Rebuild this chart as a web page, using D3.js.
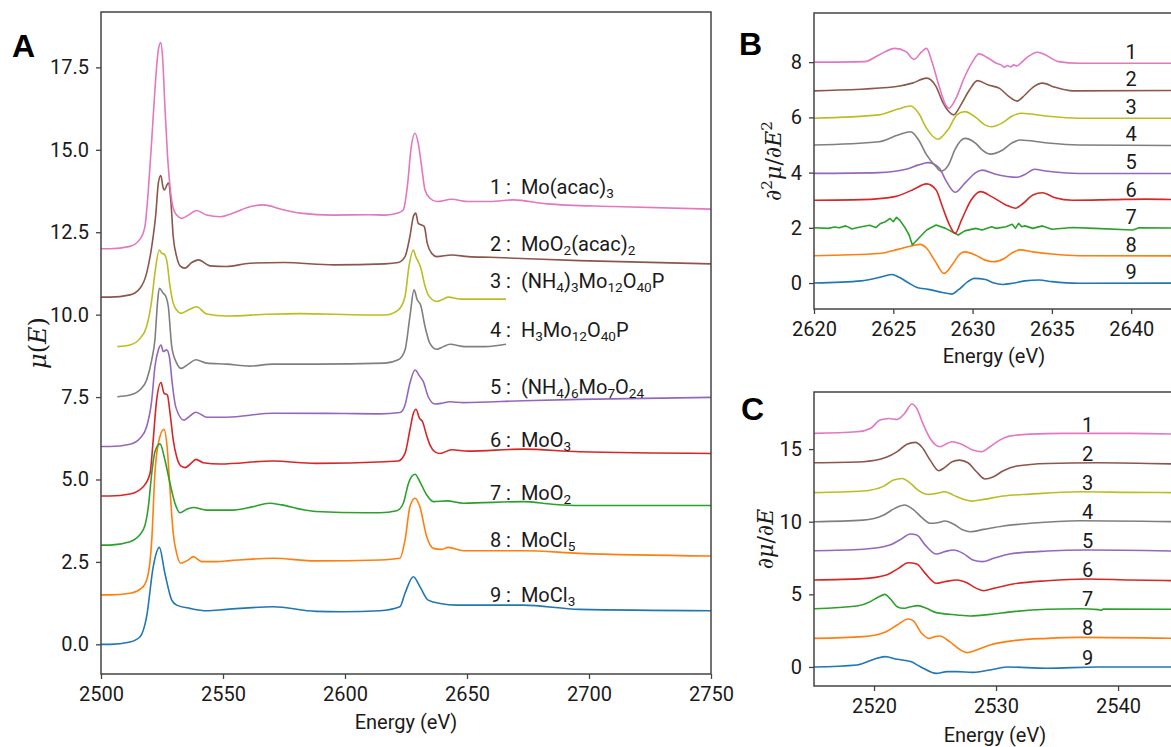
<!DOCTYPE html>
<html>
<head>
<meta charset="utf-8">
<script src="https://cdn.jsdelivr.net/npm/d3@7"></script>
<style>
  body { margin: 0; background: #fff; }
  svg { display: block; font-family: Roboto, "Liberation Sans", sans-serif; }
</style>
</head>
<body>
<div id="chart"></div>
<script>
// ---- data (energy in eV, plotted value incl. vertical offset) ----
const labelsA = ["1 :  Mo(acac)_3", "2 :  MoO_2(acac)_2", "3 :  (NH_4)_3Mo_{12}O_{40}P", "4 :  H_3Mo_{12}O_{40}P",
  "5 :  (NH_4)_6Mo_7O_{24}", "6 :  MoO_3", "7 :  MoO_2", "8 :  MoCl_5", "9 :  MoCl_3"];
const labelLevelA = [13.65, 11.93, 10.8, 9.32, 7.59, 5.98, 4.38, 2.95, 1.28];
const offsetsB = [8, 7, 6, 5, 4, 3, 2, 1, 0];
const offsetsC = [16, 14, 12, 10, 8, 6, 4, 2, 0];
const ticksAx = [2500, 2550, 2600, 2650, 2700, 2750];
const ticksAy = [0, 2.5, 5, 7.5, 10, 12.5, 15, 17.5];
const ticksBx = [2620, 2625, 2630, 2635, 2640];
const ticksBy = [0, 2, 4, 6, 8];
const ticksCx = [2520, 2530, 2540];
const ticksCy = [0, 5, 10, 15];

const A1 = [[2500,12.0],[2503.7,12.0],[2511.9,12.07],[2516,12.29],[2518,12.67],[2519.4,13.78],[2520.8,15.3],[2522.1,16.82],[2523.5,18.03],[2524.5,18.25],[2525.3,17.73],[2526.2,16.31],[2527.2,14.9],[2528.3,13.88],[2529.6,13.23],[2531,13.02],[2533.1,12.92],[2535.8,13.02],[2539.2,13.16],[2543.3,13.02],[2548.8,12.97],[2554.2,13.08],[2560,13.25],[2566.5,13.33],[2574.7,13.18],[2581.6,13.08],[2595,13.02],[2610,13.03],[2616.4,13.02],[2621.8,13.08],[2623.9,13.18],[2625.7,13.99],[2627,15.0],[2628.7,15.5],[2630,15.2],[2631.4,14.49],[2632.8,13.78],[2634.8,13.53],[2637.6,13.43],[2643.7,13.5],[2650.5,13.43],[2659.4,13.43],[2669,13.48],[2682.7,13.36],[2710,13.28],[2750,13.2]];
const A2 = [[2500,10.53],[2503.7,10.53],[2511.9,10.6],[2516,10.8],[2518.7,11.26],[2520.8,12.07],[2522.5,13.08],[2523.5,13.99],[2524.5,14.22],[2525.5,13.84],[2525.9,13.78],[2527.6,13.99],[2528.6,13.48],[2529.6,12.37],[2531,11.76],[2532.4,11.48],[2534.4,11.41],[2537.2,11.58],[2539.9,11.66],[2544.7,11.48],[2551.5,11.46],[2561,11.56],[2575,11.58],[2595.5,11.51],[2616.4,11.54],[2621.8,11.58],[2624.6,11.76],[2626.6,12.37],[2628,12.97],[2629,13.08],[2630,12.77],[2631.4,12.72],[2632.5,12.67],[2633.7,12.17],[2635.5,11.86],[2637.6,11.76],[2643.7,11.81],[2650.5,11.76],[2659.4,11.74],[2696,11.64],[2750,11.54]];
const A3 = [[2506.7,9.03],[2511.9,9.08],[2516,9.28],[2518.7,9.64],[2520.8,10.45],[2522.1,11.26],[2523.9,11.96],[2524.9,11.86],[2525.8,11.84],[2526.9,11.66],[2528.3,10.85],[2529.6,10.35],[2531,10.14],[2532.8,10.04],[2535.8,10.14],[2539.2,10.24],[2543.3,10.02],[2551.5,9.96],[2568,10.01],[2581.6,10.03],[2608.9,9.99],[2616.4,9.99],[2621.8,10.14],[2624.6,10.55],[2626.2,11.46],[2628,11.96],[2629,11.76],[2630,11.61],[2631.1,11.41],[2632.5,10.95],[2634.1,10.6],[2637.6,10.4],[2640.3,10.47],[2642.3,10.53],[2647.8,10.47],[2666,10.47]];
const A4 = [[2506.7,7.51],[2511.9,7.56],[2516,7.72],[2518.7,8.02],[2520.8,8.63],[2522.1,9.24],[2523.2,10.4],[2523.9,10.8],[2525.5,10.65],[2526.6,10.55],[2527.6,10.24],[2529,9.03],[2531,8.53],[2532.8,8.37],[2535.8,8.5],[2538.9,8.63],[2543.3,8.53],[2551.5,8.5],[2561,8.44],[2570.5,8.5],[2588,8.5],[2616.4,8.53],[2621.8,8.63],[2624.6,8.93],[2626.6,9.94],[2628.3,10.75],[2629.6,10.45],[2631,10.29],[2632.8,9.64],[2634.8,9.13],[2637.6,8.95],[2640.3,9.03],[2643,9.1],[2649.2,9.03],[2657.4,9.03],[2666,9.1]];
const A5 = [[2500,6.0],[2503.7,6.0],[2511.9,6.07],[2516,6.25],[2518.7,6.6],[2520.8,7.41],[2522.1,8.42],[2523.5,8.93],[2524.6,9.08],[2525.5,8.88],[2526.9,8.93],[2528,8.73],[2529.2,7.92],[2530.6,7.21],[2534,6.8],[2536.5,6.93],[2538.9,7.04],[2543.3,6.89],[2551.5,6.89],[2570.5,7.01],[2600,7.0],[2614.3,6.99],[2622.5,7.03],[2624.6,7.26],[2626.6,7.92],[2628.7,8.32],[2630.7,8.12],[2632.1,7.97],[2634.1,7.51],[2636.9,7.29],[2639.6,7.31],[2643,7.36],[2648.5,7.33],[2673,7.39],[2696,7.43],[2750,7.49]];
const A6 = [[2500,4.5],[2503.7,4.5],[2511.9,4.56],[2517.3,4.78],[2520.1,5.19],[2521.4,6.2],[2522.8,7.41],[2524.6,7.94],[2525.8,7.62],[2527.2,7.56],[2528.3,7.01],[2529.6,6.2],[2531,5.69],[2532.7,5.41],[2534.4,5.36],[2537.2,5.51],[2538.9,5.61],[2541.9,5.51],[2548.8,5.47],[2570.5,5.56],[2588,5.49],[2616.4,5.54],[2621.8,5.56],[2624.6,5.79],[2626.6,6.5],[2628,7.0],[2629.1,7.13],[2630.5,6.86],[2631.8,6.75],[2633.2,6.4],[2634.8,6.05],[2636.9,5.84],[2638.9,5.79],[2643.7,5.9],[2650.5,5.86],[2673,5.92],[2696,5.84],[2750,5.79]];
const A7 = [[2500,3.01],[2503.7,3.01],[2511.9,3.11],[2517.3,3.47],[2519.4,4.17],[2520.8,5.19],[2522.1,5.84],[2524.2,6.08],[2526.2,5.59],[2528.3,4.88],[2530.3,4.28],[2532.4,3.99],[2535.1,4.1],[2537.8,4.15],[2543.3,4.07],[2554,4.07],[2562,4.17],[2569,4.28],[2574,4.23],[2581.6,4.1],[2588,4.03],[2608.9,3.99],[2614.3,3.99],[2621.2,4.05],[2623.9,4.28],[2626,4.88],[2627.3,5.09],[2628.7,5.16],[2630.7,4.93],[2633.5,4.53],[2636.2,4.33],[2641.7,4.35],[2648.5,4.28],[2673,4.33],[2685,4.25],[2696,4.21],[2750,4.21]];
const A8 = [[2500,1.5],[2503.7,1.5],[2511.9,1.55],[2517.3,1.75],[2519.4,2.15],[2520.8,3.16],[2522.1,5.19],[2523.5,6.1],[2525.8,6.52],[2527.2,5.9],[2528.3,4.68],[2529.6,3.37],[2531,2.76],[2532.7,2.46],[2535.8,2.56],[2537.8,2.66],[2541.3,2.51],[2547.4,2.51],[2552.9,2.54],[2570.5,2.61],[2588,2.53],[2614.3,2.56],[2622.5,2.61],[2624.6,3.16],[2626.6,4.17],[2628.7,4.43],[2630.7,4.17],[2633.5,3.26],[2636.2,2.91],[2639.6,2.88],[2642.3,2.94],[2648.5,2.84],[2673,2.84],[2696,2.76],[2750,2.68]];
const A9 = [[2500,0],[2503.7,0],[2511.9,0.07],[2516,0.23],[2518.7,0.84],[2521.4,2.35],[2523.9,2.94],[2526.2,2.15],[2529,1.34],[2531,1.19],[2536.5,1.09],[2543.3,1.02],[2551.5,1.06],[2570.5,1.14],[2588,1.0],[2599,0.99],[2614.3,1.02],[2622.5,1.14],[2624.6,1.55],[2628,2.05],[2630.7,1.75],[2634.1,1.34],[2639,1.24],[2645.8,1.19],[2673,1.19],[2696,1.06],[2750,1.02]];

const B1 = [[2620,8.0],[2623.2,8.02],[2624.1,8.26],[2625.1,8.5],[2625.8,8.38],[2626.3,8.1],[2626.8,8.38],[2627.1,8.5],[2627.4,8.08],[2627.9,7.11],[2628.3,6.45],[2628.5,6.33],[2628.9,6.63],[2629.5,7.47],[2630,8.02],[2630.4,8.3],[2631,8.14],[2631.5,7.96],[2631.8,7.9],[2632,7.82],[2632.2,7.88],[2632.4,7.83],[2632.6,7.9],[2632.8,7.86],[2633,7.95],[2633.5,8.2],[2634.1,8.36],[2634.6,8.26],[2635.4,8.02],[2636.7,7.96],[2645,7.96]];
const B2 = [[2620,6.96],[2625.1,7.11],[2626.2,7.24],[2627.1,7.42],[2627.7,7.11],[2628.1,6.57],[2628.5,6.21],[2628.8,6.09],[2629.2,6.39],[2629.8,6.99],[2630.3,7.33],[2631,7.17],[2631.7,7.05],[2632.3,6.75],[2632.8,6.59],[2633.3,6.81],[2633.8,7.09],[2634.4,7.24],[2635.2,7.09],[2636.3,6.96],[2645,6.98]];
const B3 = [[2620,5.97],[2624.1,6.09],[2625.3,6.3],[2626.1,6.41],[2626.6,6.15],[2627.1,5.6],[2627.8,5.21],[2628.5,5.6],[2629,6.09],[2629.5,6.21],[2630.2,6.0],[2630.8,5.72],[2631.2,5.66],[2631.9,5.81],[2632.5,6.05],[2633.1,6.15],[2634.6,6.05],[2636.7,5.97],[2645,5.97]];
const B4 = [[2620,5.0],[2624.1,5.12],[2625.3,5.36],[2626.1,5.48],[2626.6,5.18],[2627.1,4.64],[2627.7,4.21],[2628.0,4.05],[2628.5,4.3],[2628.9,4.85],[2629.5,5.24],[2630.2,5.06],[2630.6,4.82],[2631.1,4.67],[2631.9,4.82],[2632.5,5.08],[2633,5.18],[2634.6,5.08],[2636.7,5.0],[2645,4.97]];
const B5 = [[2620,3.97],[2624.1,4.0],[2625.8,4.12],[2626.6,4.28],[2627.2,4.36],[2627.9,4.16],[2628.3,3.73],[2628.9,3.29],[2629.5,3.61],[2630.2,4.0],[2630.6,4.09],[2631.4,3.95],[2632.8,3.83],[2633.3,3.93],[2633.9,4.12],[2634.6,4.06],[2636.7,3.97],[2645,3.97]];
const B6 = [[2620,3.0],[2623,3.02],[2625.1,3.13],[2626.2,3.37],[2627.1,3.59],[2627.7,3.37],[2628.1,2.76],[2628.5,2.16],[2628.9,1.8],[2629.3,2.28],[2629.9,3.0],[2630.5,3.31],[2631.2,3.13],[2632.1,2.83],[2632.7,2.71],[2633.2,2.89],[2633.8,3.19],[2634.4,3.27],[2635.2,3.09],[2636.3,3.0],[2638.8,3.02],[2640.9,3.04],[2645,2.98]];
const B7 = [[2620,2.0],[2620.9,1.98],[2621.3,2.03],[2621.6,2.0],[2622,2.07],[2622.4,1.96],[2622.7,2.0],[2623,2.04],[2623.5,2.09],[2623.9,2.01],[2624.2,2.16],[2624.5,2.22],[2624.8,2.34],[2625,2.22],[2625.2,2.38],[2625.4,2.28],[2625.7,2.04],[2626,1.74],[2626.2,1.38],[2626.6,1.62],[2627.1,1.92],[2627.7,2.1],[2628.3,1.98],[2628.7,1.86],[2629.1,1.74],[2629.5,1.89],[2630.2,1.98],[2630.6,1.92],[2631.2,2.04],[2631.5,1.98],[2632.1,2.04],[2632.5,2.13],[2632.7,1.98],[2632.9,2.16],[2633.1,2.04],[2633.3,2.07],[2633.8,1.98],[2634.4,2.07],[2635,1.95],[2636.3,2.01],[2637.7,1.98],[2640.1,1.92],[2640.5,2.0],[2645,1.98]];
const B8 = [[2620,0.99],[2624.1,1.07],[2625.3,1.22],[2626.2,1.35],[2626.7,1.4],[2627.1,1.26],[2627.6,0.83],[2628.2,0.35],[2628.7,0.65],[2629.2,1.05],[2629.5,1.13],[2630.2,1.01],[2630.8,0.83],[2631.3,0.77],[2632,0.89],[2632.5,1.1],[2633,1.2],[2633.8,1.13],[2635,1.05],[2636.7,0.99],[2645,0.98]];
const B9 = [[2620,0],[2623,0.08],[2624.1,0.2],[2624.9,0.31],[2625.4,0.2],[2626,-0.01],[2626.5,-0.16],[2627.2,-0.23],[2628.1,-0.34],[2628.7,-0.4],[2629.1,-0.25],[2629.7,0.05],[2630.1,0.17],[2630.8,0.13],[2631.3,0.01],[2631.9,-0.05],[2632.5,-0.01],[2633.3,0.08],[2634.2,0.11],[2635,0.05],[2636.7,-0.01],[2645,0]];

const C1 = [[2515,16.08],[2518.6,16.19],[2519.7,16.42],[2520.5,17.0],[2521.2,17.11],[2521.9,17.04],[2522.5,17.45],[2523.1,18.1],[2523.5,17.8],[2524,16.77],[2524.6,15.73],[2525.4,15.16],[2526,15.39],[2526.4,15.5],[2527.3,15.28],[2528.1,14.93],[2528.8,14.82],[2529.5,15.16],[2530.3,15.62],[2531.1,15.89],[2532.8,16.03],[2535.5,16.08],[2541,16.08],[2545,16.03]];
const C2 = [[2515,14.06],[2519.1,14.13],[2521,14.43],[2521.9,14.82],[2522.7,15.34],[2523.4,15.46],[2523.9,15.16],[2524.6,14.24],[2525.3,13.51],[2525.8,13.74],[2526.4,14.13],[2527,14.24],[2527.7,14.06],[2528.4,13.44],[2529.1,12.94],[2529.8,13.1],[2530.6,13.51],[2531.7,13.83],[2534.2,14.01],[2538.3,14.06],[2545,13.97]];
const C3 = [[2515,12.0],[2519.1,12.11],[2520.8,12.45],[2521.6,12.87],[2522.3,12.98],[2523,12.64],[2523.6,12.18],[2524.5,11.88],[2525.1,11.95],[2525.8,12.06],[2526.5,11.83],[2527.3,11.54],[2528,11.42],[2529,11.54],[2530.6,11.77],[2532.8,11.9],[2536.9,12.06],[2541,12.02],[2545,12.0]];
const C4 = [[2515,10.0],[2519.1,10.11],[2520.8,10.46],[2521.7,10.92],[2522.5,11.15],[2523.2,10.85],[2523.9,10.3],[2524.6,9.89],[2525.2,9.93],[2525.8,10.05],[2526.5,9.84],[2527.3,9.43],[2527.9,9.31],[2529,9.47],[2530.6,9.7],[2532.8,9.89],[2536.9,10.07],[2545,10.0]];
const C5 = [[2515,8.0],[2519.1,8.1],[2521.3,8.39],[2522.1,8.74],[2523,9.15],[2523.5,9.08],[2524.2,8.39],[2525.1,7.78],[2525.8,7.94],[2526.5,8.05],[2527.3,7.82],[2528.1,7.36],[2528.9,7.25],[2529.8,7.48],[2531.1,7.78],[2534.2,7.98],[2537.4,8.05],[2545,7.98]];
const C6 = [[2515,5.99],[2519.1,6.08],[2521,6.33],[2522,6.79],[2522.8,7.18],[2523.5,7.09],[2524.2,6.44],[2525.1,5.76],[2525.8,5.87],[2526.8,5.99],[2527.6,5.8],[2528.4,5.41],[2529,5.25],[2529.8,5.41],[2531.4,5.71],[2534.2,5.94],[2537.4,6.06],[2541,5.99],[2545,5.94]];
const C7 = [[2515,4.01],[2518.6,4.2],[2519.7,4.5],[2520.4,4.84],[2520.9,5.0],[2521.3,4.72],[2521.9,4.15],[2522.4,4.04],[2523,4.15],[2523.6,4.22],[2524.3,4.04],[2525.1,3.74],[2526.8,3.58],[2527.9,3.51],[2529.5,3.62],[2531.4,3.81],[2534.2,3.97],[2536.9,4.01],[2538.4,3.95],[2538.6,3.9],[2538.8,3.98],[2545,3.97]];
const C8 = [[2515,1.97],[2519.1,2.09],[2521,2.43],[2521.9,2.89],[2522.8,3.3],[2523.2,3.19],[2523.9,2.32],[2524.5,1.97],[2525,2.09],[2525.4,2.13],[2526.2,1.74],[2527,1.22],[2527.6,0.99],[2528.4,1.17],[2529.5,1.51],[2531.4,1.81],[2534.2,1.97],[2536.9,2.04],[2545,1.97]];
const C9 = [[2515,0],[2518.6,0.14],[2520,0.53],[2520.9,0.71],[2521.9,0.53],[2523,0.37],[2523.8,0.02],[2525.1,-0.44],[2526,-0.32],[2526.8,-0.32],[2528.1,-0.37],[2529.5,-0.21],[2530.9,0],[2534.2,-0.09],[2538.3,0],[2545,0]];

// series 1..9 use these matplotlib tab10 colours
const colors = ["#e377c2", "#8c564b", "#bcbd22", "#7f7f7f", "#9467bd", "#d62728", "#2ca02c", "#ff7f0e", "#1f77b4"];

const W = 1171, H = 747;
const svg = d3.select("#chart").append("svg").attr("width", W).attr("height", H);
const defs = svg.append("defs");

const axisColor = "#444";
const textColor = "#1a1a1a";

// writes "MoO_2(acac)_2" style strings with subscripts
function richText(text, str, size) {
  const parts = str.split(/(_\{[^}]*\}|_\w)/).filter((s) => s !== "");
  let shifted = false;
  parts.forEach((p) => {
    const sub = p[0] === "_";
    const t = sub ? p.replace(/^_\{?/, "").replace(/\}$/, "") : p;
    const ts = text.append("tspan").text(t);
    if (sub) {
      ts.attr("font-size", size * 0.68).attr("dy", shifted ? 0 : size * 0.2);
      shifted = true;
    } else {
      ts.attr("font-size", size).attr("dy", shifted ? -size * 0.2 : 0);
      shifted = false;
    }
  });
}

// math-like label with italic and superscript segments
function mathText(text, segs, size) {
  let up = false;
  segs.forEach(([t, style]) => {
    const ts = text.append("tspan").text(t);
    if (style === "sup") {
      ts.attr("font-size", size * 0.7).attr("dy", up ? 0 : -size * 0.4);
      up = true;
    } else {
      ts.attr("font-size", size).attr("dy", up ? size * 0.4 : 0);
      up = false;
      if (style === "it") ts.attr("font-style", "italic");
    }
  });
}

function drawPanel(cfg) {
  const { id, box, xDomain, yDomain, xTicks, yTicks, yFmt, series } = cfg;
  const x = d3.scaleLinear().domain(xDomain).range([box.left, box.right]);
  const y = d3.scaleLinear().domain(yDomain).range([box.bottom, box.top]);
  const g = svg.append("g").attr("class", "panel-" + id);

  defs.append("clipPath").attr("id", "clip-" + id)
    .append("rect")
    .attr("x", box.left).attr("y", box.top)
    .attr("width", box.right - box.left).attr("height", box.bottom - box.top);

  const smooth = d3.line().x((d) => x(d[0])).y((d) => y(d[1])).curve(d3.curveMonotoneX);
  const raw = d3.line().x((d) => x(d[0])).y((d) => y(d[1])).curve(d3.curveLinear);
  const noisy = cfg.noisy || [];

  // draw series 9 first so series 1 ends up on top
  const order = d3.range(series.length).reverse();
  g.append("g").attr("clip-path", `url(#clip-${id})`)
    .selectAll("path")
    .data(order)
    .join("path")
    .attr("d", (i) => (noisy.includes(i) ? raw : smooth)(series[i]))
    .attr("fill", "none")
    .attr("stroke", (i) => colors[i])
    .attr("stroke-width", 1.6)
    .attr("stroke-linejoin", "round");

  // axes
  const xAxis = g.append("g")
    .attr("transform", `translate(0,${box.bottom})`)
    .call(d3.axisBottom(x).tickValues(xTicks).tickSize(5).tickPadding(8).tickFormat(d3.format("d")));
  const yAxis = g.append("g")
    .attr("transform", `translate(${box.left},0)`)
    .call(d3.axisLeft(y).tickValues(yTicks).tickSize(5).tickPadding(7).tickFormat(d3.format(yFmt)));
  [xAxis, yAxis].forEach((a) => {
    a.select(".domain").remove();
    a.selectAll(".tick line").attr("stroke", axisColor).attr("stroke-width", 1.3);
    a.selectAll(".tick text")
      .attr("fill", textColor)
      .style("font-size", "20px")
      .style("font-family", "Roboto, sans-serif");
  });

  // frame (spines)
  g.append("rect")
    .attr("x", box.left).attr("y", box.top)
    .attr("width", box.right - box.left).attr("height", box.bottom - box.top)
    .attr("fill", "none").attr("stroke", axisColor).attr("stroke-width", 1.5);

  // x label
  g.append("text")
    .attr("x", cfg.xLabelX).attr("y", cfg.xLabelY)
    .attr("text-anchor", "middle")
    .attr("fill", textColor)
    .style("font-size", "20px")
    .text("Energy (eV)");

  // y label
  const yl = g.append("text")
    .attr("transform", `translate(${cfg.yLabelX},${(box.top + box.bottom) / 2}) rotate(-90)`)
    .attr("text-anchor", "middle")
    .attr("fill", textColor)
    .style("font-family", "'DejaVu Serif', serif");
  mathText(yl, cfg.yLabel, cfg.yLabelSize);

  // panel letter
  svg.append("text")
    .attr("x", cfg.letterPos[0]).attr("y", cfg.letterPos[1])
    .attr("fill", "#000")
    .style("font-family", "'Liberation Sans', Arial, sans-serif")
    .style("font-weight", "bold")
    .style("font-size", "32px")
    .text(id);

  return { g, x, y };
}

// ---- panel A ----
const pA = drawPanel({
  id: "A",
  box: { left: 101, right: 711, top: 12, bottom: 674 },
  xDomain: [2500, 2750], yDomain: [-0.9, 19.18],
  xTicks: ticksAx, yTicks: ticksAy, yFmt: ".1f",
  series: [A1, A2, A3, A4, A5, A6, A7, A8, A9],
  xLabelX: 406, xLabelY: 729,
  yLabelX: 46, yLabelSize: 24,
  yLabel: [["μ", "it"], ["(", ""], ["E", "it"], [")", ""]],
  letterPos: [12, 57],
});
pA.g.append("g")
  .selectAll("text")
  .data(labelsA)
  .join("text")
  .attr("x", pA.x(2659.4))
  .attr("y", (d, i) => pA.y(labelLevelA[i]))
  .attr("fill", textColor)
  .style("white-space", "pre")
  .each(function (d) { richText(d3.select(this), d, 20); });

// ---- panel B ----
const pB = drawPanel({
  id: "B",
  box: { left: 814, right: 1174, top: 13, bottom: 309 },
  xDomain: [2620, 2642.7], yDomain: [-0.94, 9.78],
  xTicks: ticksBx, yTicks: ticksBy, yFmt: "d",
  series: [B1, B2, B3, B4, B5, B6, B7, B8, B9],
  noisy: [6],
  xLabelX: 994, xLabelY: 363,
  yLabelX: 781, yLabelSize: 22,
  yLabel: [["∂", ""], ["2", "sup"], ["μ", "it"], ["/∂", ""], ["E", "it"], ["2", "sup"]],
  letterPos: [739, 55],
});
pB.g.append("g")
  .selectAll("text")
  .data(offsetsB)
  .join("text")
  .attr("x", pB.x(2640))
  .attr("y", (d) => pB.y(d + 0.13))
  .attr("text-anchor", "middle")
  .attr("fill", textColor)
  .style("font-size", "20px")
  .text((d, i) => i + 1);

// ---- panel C ----
const pC = drawPanel({
  id: "C",
  box: { left: 814, right: 1176, top: 392, bottom: 686 },
  xDomain: [2515.08, 2544.75], yDomain: [-1.31, 18.93],
  xTicks: ticksCx, yTicks: ticksCy, yFmt: "d",
  series: [C1, C2, C3, C4, C5, C6, C7, C8, C9],
  xLabelX: 995, xLabelY: 742,
  yLabelX: 773, yLabelSize: 22,
  yLabel: [["∂", ""], ["μ", "it"], ["/∂", ""], ["E", "it"]],
  letterPos: [741, 420],
});
pC.g.append("g")
  .selectAll("text")
  .data(offsetsC)
  .join("text")
  .attr("x", pC.x(2537.5))
  .attr("y", (d) => pC.y(d + 0.17))
  .attr("text-anchor", "middle")
  .attr("fill", textColor)
  .style("font-size", "20px")
  .text((d, i) => i + 1);
</script>
</body>
</html>
